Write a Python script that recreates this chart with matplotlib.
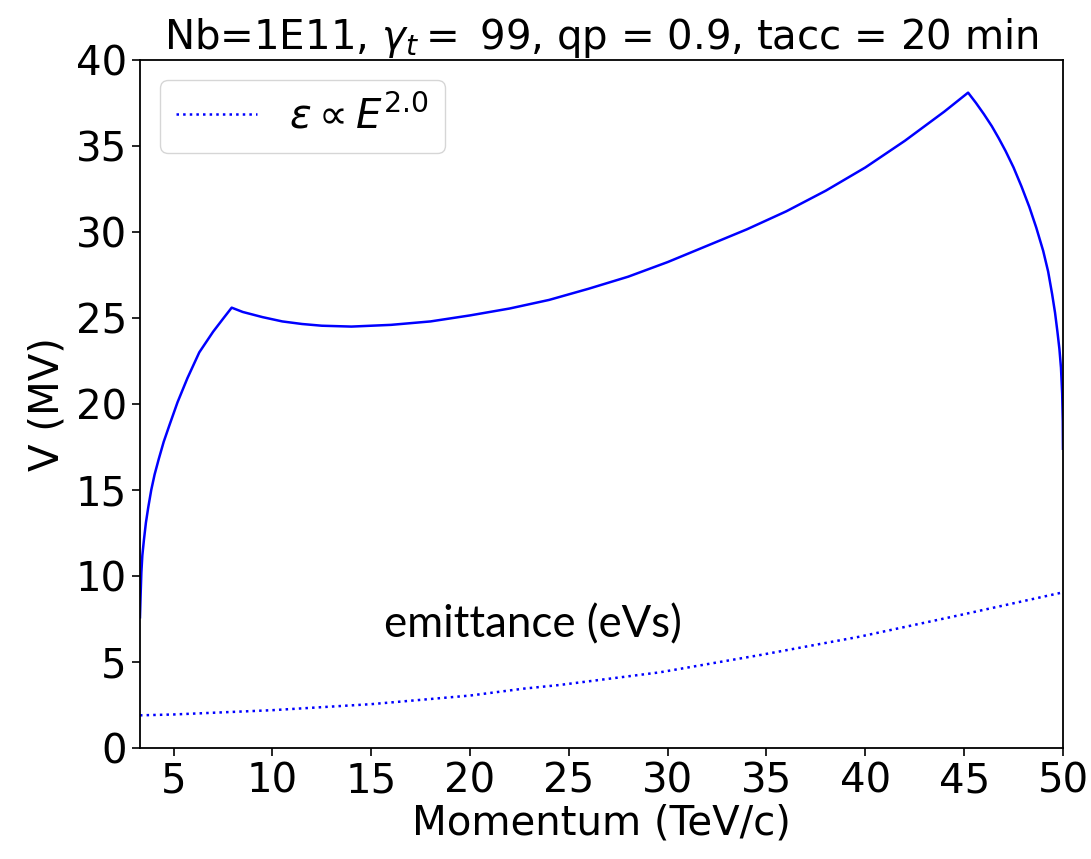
import matplotlib
matplotlib.use("Agg")
import matplotlib.pyplot as plt

# RF voltage along the ramp (TeV/c, MV)
momentum_v = [3.30, 3.33, 3.37, 3.42, 3.50, 3.60, 3.72, 3.87, 4.04, 4.25, 4.50,
              4.80, 5.20, 5.70, 6.30, 7.00, 7.50, 7.94, 8.50, 9.50, 10.5, 11.5,
              12.5, 14.0, 16.0, 18.0, 20.0, 22.0, 24.0, 26.0, 28.0, 30.0, 32.0,
              34.0, 36.0, 38.0, 40.0, 42.0, 44.0, 45.2, 45.6, 46.0, 46.4, 46.75,
              47.1, 47.5, 47.9, 48.3, 48.65, 49.0, 49.25, 49.45, 49.6, 49.72,
              49.82, 49.9, 49.96, 49.99, 50.0]
voltage = [7.6, 8.8, 10.2, 11.2, 12.1, 13.1, 14.0, 15.0, 15.9, 16.8, 17.8,
           18.8, 20.1, 21.5, 23.0, 24.2, 24.95, 25.6, 25.35, 25.05, 24.8, 24.65,
           24.55, 24.5, 24.6, 24.8, 25.15, 25.55, 26.05, 26.7, 27.4, 28.25, 29.2,
           30.15, 31.2, 32.4, 33.75, 35.3, 37.0, 38.1, 37.5, 36.85, 36.15, 35.45,
           34.7, 33.75, 32.65, 31.45, 30.25, 28.9, 27.7, 26.4, 25.3, 24.2,
           23.2, 22.1, 20.6, 19.0, 17.4]

# longitudinal emittance (eVs)
momentum_e = [3.3, 5.0, 10.0, 15.0, 20.0, 22.7, 24.5, 29.6, 34.7, 39.7, 44.8, 50.0]
emittance = [1.9, 1.95, 2.2, 2.55, 3.05, 3.45, 3.66, 4.40, 5.41, 6.47, 7.73, 9.05]

FS = 29

fig = plt.figure(figsize=(10.91, 8.59), dpi=100)
ax = fig.add_axes([0.1283, 0.1292, 0.846, 0.801])

ax.plot(momentum_v, voltage, color="blue", lw=1.8)
ax.plot(momentum_e, emittance, color="blue", lw=1.8, ls=":",
        label=r"$\epsilon \propto E^{2.0}$")

ax.set_xlim(3.3, 50)
ax.set_ylim(0, 40)
ax.set_xticks(range(5, 51, 5))
ax.set_yticks(range(0, 41, 5))
ax.tick_params(labelsize=FS, width=1.2, length=6)
for s in ax.spines.values():
    s.set_linewidth(1.3)

ax.set_xlabel("Momentum (TeV/c)", fontsize=FS, labelpad=2)
ax.set_ylabel("V (MV)", fontsize=FS, labelpad=6)
ax.set_title(r"Nb=1E11, $\gamma_t =$ 99, qp = 0.9, tacc = 20 min",
             fontsize=FS, pad=6)
ax.legend(loc="upper left", fontsize=FS)

ax.text(23.2, 7.15, "emittance (eVs)", fontsize=31.5, family="Lato",
        ha="center", va="center")

fig.savefig("out.png", dpi=100)
